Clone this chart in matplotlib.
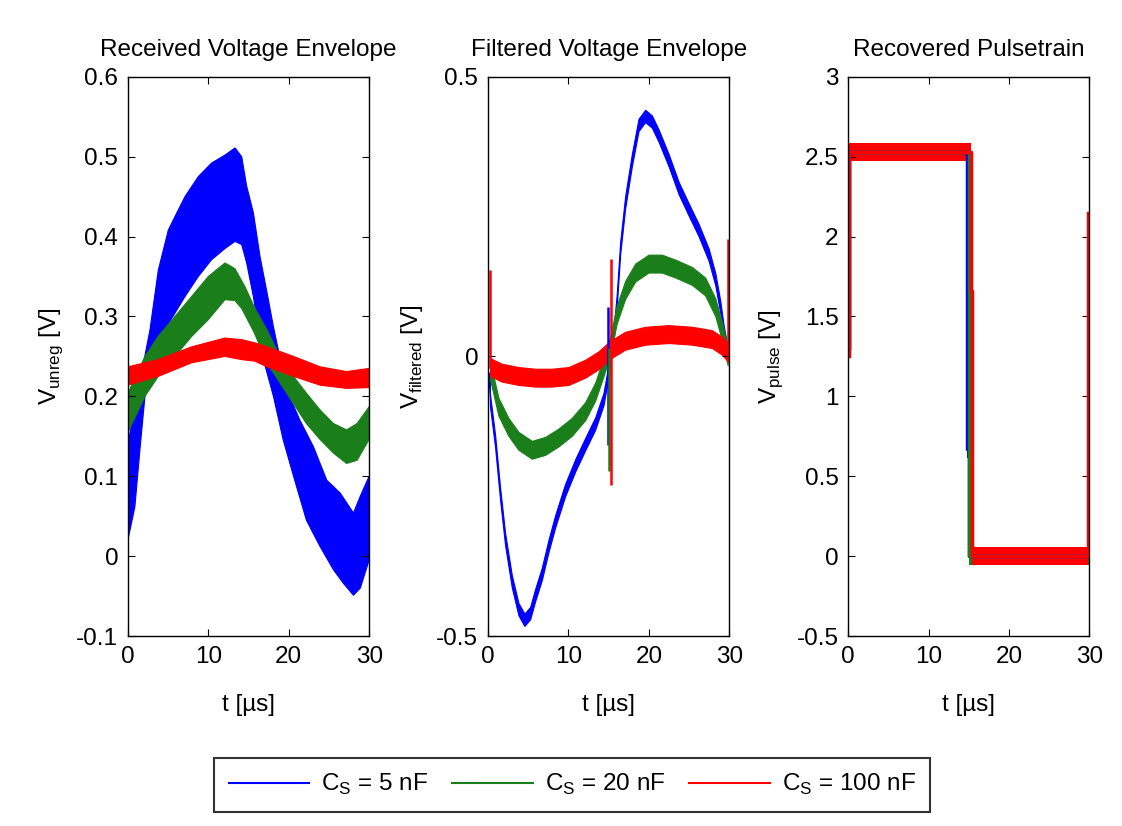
import numpy as np
import matplotlib
matplotlib.use("Agg")
import matplotlib.pyplot as plt
from matplotlib.ticker import FuncFormatter

plt.rcParams['font.family'] = ['Liberation Sans', 'DejaVu Sans']
plt.rcParams['axes.unicode_minus'] = False
plt.rcParams['mathtext.fontset'] = 'custom'
plt.rcParams['mathtext.rm'] = 'Liberation Sans'

# ---- Received voltage envelope: upper / lower edge of the ripple band ----
t_blue1_hi = [0.0, 0.9, 1.5, 2.1, 2.74, 3.78, 5.02, 5.85, 7.1, 8.75, 10.4, 12.07, 13.32, 14.15,
              14.77, 15.6, 16.43, 17.3, 18.1, 19.75, 21.4, 23.07, 24.73, 26.4, 28.05, 28.9, 30.0]
blue1_hi = [0.14, 0.19, 0.22, 0.25, 0.283, 0.358, 0.408, 0.425, 0.45, 0.475, 0.492, 0.502, 0.511, 0.50,
            0.463, 0.43, 0.375, 0.33, 0.287, 0.208, 0.17, 0.137, 0.095, 0.079, 0.054, 0.075, 0.10]
t_blue1_lo = [0.0, 0.87, 1.49, 2.12, 3.36, 5.0, 7.1, 8.75, 10.4, 12.07, 13.32, 14.15, 14.77, 15.6,
              16.85, 18.1, 19.3, 20.6, 22.2, 23.9, 25.56, 26.8, 28.05, 28.9, 30.0]
blue1_lo = [0.02, 0.062, 0.133, 0.2, 0.24, 0.29, 0.325, 0.35, 0.371, 0.385, 0.394, 0.39, 0.367, 0.325,
            0.246, 0.2, 0.146, 0.1, 0.045, 0.012, -0.017, -0.034, -0.049, -0.04, -0.005]

t_green1_hi = [0.0, 2.12, 3.78, 5.85, 7.93, 10.0, 12.07, 13.3, 14.57, 15.8, 17.3, 18.9, 20.6, 22.2,
               23.9, 25.56, 27.2, 28.5, 30.0]
green1_hi = [0.204, 0.25, 0.275, 0.30, 0.325, 0.35, 0.367, 0.36, 0.337, 0.31, 0.283, 0.25, 0.225, 0.204,
             0.183, 0.166, 0.158, 0.166, 0.187]
t_green1_lo = [0.0, 2.12, 3.78, 5.85, 7.93, 10.0, 12.07, 13.3, 14.15, 15.7, 17.3, 19.75, 22.2, 23.9,
               25.56, 27.2, 28.5, 30.0]
green1_lo = [0.155, 0.2, 0.225, 0.25, 0.275, 0.296, 0.321, 0.32, 0.31, 0.28, 0.242, 0.204, 0.166, 0.146,
             0.129, 0.116, 0.12, 0.146]

t_red1 = [0.0, 3.78, 7.93, 12.07, 14.15, 15.8, 17.3, 20.6, 23.9, 27.2, 30.0]
red1_hi = [0.237, 0.246, 0.262, 0.273, 0.271, 0.267, 0.262, 0.25, 0.237, 0.231, 0.235]
red1_lo = [0.214, 0.225, 0.242, 0.25, 0.246, 0.244, 0.237, 0.225, 0.214, 0.21, 0.211]

# ---- Filtered voltage envelope: centre line + ripple half-width ----
t_blue2 = [0.15, 0.25, 0.87, 1.49, 2.12, 2.95, 3.78, 4.52, 5.23, 5.85, 6.68, 7.51, 8.34, 9.58, 10.83,
           12.07, 13.32, 14.36, 14.98, 15.6, 16.0, 16.43, 17.05, 17.88, 18.71, 19.54, 20.37, 21.2,
           22.45, 23.7, 24.94, 26.18, 27.43, 28.26, 28.88, 29.3, 29.71]
blue2 = [-0.04, -0.08, -0.151, -0.245, -0.327, -0.402, -0.452, -0.471, -0.459, -0.427, -0.389, -0.339,
         -0.295, -0.239, -0.195, -0.157, -0.12, -0.076, -0.025, 0.037, 0.10, 0.194, 0.276, 0.351, 0.414,
         0.43, 0.42, 0.395, 0.351, 0.301, 0.263, 0.226, 0.182, 0.138, 0.088, 0.044, 0.012]
blue2_ripple = 0.011

t_green2 = [0.25, 1.29, 2.53, 3.78, 5.44, 7.1, 8.75, 10.41, 12.07, 13.32, 14.36, 15.2, 16.0, 17.05,
            18.3, 19.96, 21.6, 23.3, 25.35, 27.0, 28.26, 29.1, 29.8]
green2 = [-0.025, -0.09, -0.126, -0.151, -0.167, -0.16, -0.145, -0.126, -0.098, -0.063, -0.019, 0.019,
          0.075, 0.119, 0.15, 0.166, 0.166, 0.157, 0.144, 0.125, 0.088, 0.044, 0.0]
green2_ripple = 0.016

t_red2 = [0.25, 1.7, 3.78, 5.85, 7.93, 10.0, 12.07, 13.73, 15.2, 17.05, 19.54, 22.45, 25.35, 27.84,
          29.1, 29.9]
red2 = [-0.019, -0.029, -0.035, -0.038, -0.038, -0.035, -0.022, -0.007, 0.012, 0.028, 0.037, 0.04,
        0.037, 0.031, 0.019, 0.006]
red2_ripple = 0.016

# switching spikes (time, low, high)
spike_t_blue2 = [14.95]
spike_lo_blue2 = [-0.159]
spike_hi_blue2 = [0.089]
spike_t_green2 = [15.05]
spike_lo_green2 = [-0.205]
spike_hi_green2 = [0.015]
spike_t_red2 = [0.25, 15.3, 29.85]
spike_lo_red2 = [-0.02, -0.23, 0.0]
spike_hi_red2 = [0.155, 0.174, 0.21]

# ---- Recovered pulse train ----
t_blue3 = [0.1, 0.1, 14.8, 14.8, 15.0, 15.0, 29.9]
blue3 = [1.3, 2.53, 2.53, 0.67, 0.67, 0.0, 0.0]
t_green3 = [0.1, 0.1, 15.0, 15.0, 29.9]
green3 = [1.3, 2.53, 2.53, 0.0, 0.0]
t_red3 = [0.1, 0.1, 15.3, 15.3, 15.45, 15.45, 29.85, 29.85]
red3 = [1.25, 2.53, 2.53, 1.66, 1.66, 0.0, 0.0, 2.15]
pulse_ripple = 0.055

labels = ['C$_\\mathrm{S}$ = 5 nF', 'C$_\\mathrm{S}$ = 20 nF', 'C$_\\mathrm{S}$ = 100 nF']
colors = ['#0000ff', '#1a7f1a', '#ff0000']

fig = plt.figure(figsize=(11.22, 8.26), dpi=100)
fs = 17.5
w, h, b = 0.215, 0.677, 0.230
ax1 = fig.add_axes([0.114, b, w, h])
ax2 = fig.add_axes([0.435, b, w, h])
ax3 = fig.add_axes([0.756, b, w, h])

# panel 1: polygon = upper edge then lower edge reversed
for th, hi, tl, lo, c in [(t_blue1_hi, blue1_hi, t_blue1_lo, blue1_lo, colors[0]),
                          (t_green1_hi, green1_hi, t_green1_lo, green1_lo, colors[1]),
                          (t_red1, red1_hi, t_red1, red1_lo, colors[2])]:
    ax1.fill(np.r_[th, tl[::-1]], np.r_[hi, lo[::-1]], color=c, lw=0.8, edgecolor=c)
ax1.set_ylim(-0.1, 0.6)
ax1.set_yticks(np.arange(-0.1, 0.61, 0.1))
ax1.set_title('Received Voltage Envelope', fontsize=fs, pad=15)
ax1.set_ylabel('V$_\\mathrm{unreg}$ [V]', fontsize=fs, labelpad=8)

# panel 2
for tt, v, r, c in [(t_blue2, blue2, blue2_ripple, colors[0]),
                    (t_green2, green2, green2_ripple, colors[1]),
                    (t_red2, red2, red2_ripple, colors[2])]:
    v = np.array(v)
    ax2.fill_between(tt, v - r, v + r, color=c, lw=0.8, edgecolor=c)
for st, slo, shi, c in [(spike_t_blue2, spike_lo_blue2, spike_hi_blue2, colors[0]),
                        (spike_t_green2, spike_lo_green2, spike_hi_green2, colors[1]),
                        (spike_t_red2, spike_lo_red2, spike_hi_red2, colors[2])]:
    ax2.vlines(st, slo, shi, color=c, lw=1.8)
ax2.set_ylim(-0.5, 0.5)
ax2.set_yticks([-0.5, 0, 0.5])
ax2.set_title('Filtered Voltage Envelope', fontsize=fs, pad=15)
ax2.set_ylabel('V$_\\mathrm{filtered}$ [V]', fontsize=fs, labelpad=8)

# panel 3
for tt, v, c in [(t_blue3, blue3, colors[0]), (t_green3, green3, colors[1]), (t_red3, red3, colors[2])]:
    v = np.array(v)
    ax3.fill_between(tt, v - pulse_ripple, v + pulse_ripple, color=c, lw=0)
    ax3.plot(tt, v, color=c, lw=2.5)
ax3.set_ylim(-0.5, 3)
ax3.set_yticks(np.arange(-0.5, 3.01, 0.5))
ax3.set_title('Recovered Pulsetrain', fontsize=fs, pad=15)
ax3.set_ylabel('V$_\\mathrm{pulse}$ [V]', fontsize=fs, labelpad=8)

fmt = FuncFormatter(lambda x, p: '%g' % round(x, 3))
for ax in (ax1, ax2, ax3):
    ax.set_xlim(0, 30)
    ax.set_xticks([0, 10, 20, 30])
    ax.set_xlabel('t [\u00b5s]', fontsize=fs, labelpad=19)
    ax.yaxis.set_major_formatter(fmt)
    ax.tick_params(direction='in', top=True, right=True, length=5, labelsize=fs, pad=7)
    for s in ax.spines.values():
        s.set_linewidth(1.0)

handles = [plt.Line2D([], [], color=c, lw=1.5) for c in colors]
leg = fig.legend(handles, labels, loc='center', bbox_to_anchor=(0.51, 0.05), ncol=3,
                 fontsize=fs, frameon=True, fancybox=False, edgecolor='black',
                 handlelength=3.3, columnspacing=1.0, handletextpad=0.5, borderpad=0.6)
leg.get_frame().set_linewidth(1.5)

fig.savefig('out.png', dpi=100)
